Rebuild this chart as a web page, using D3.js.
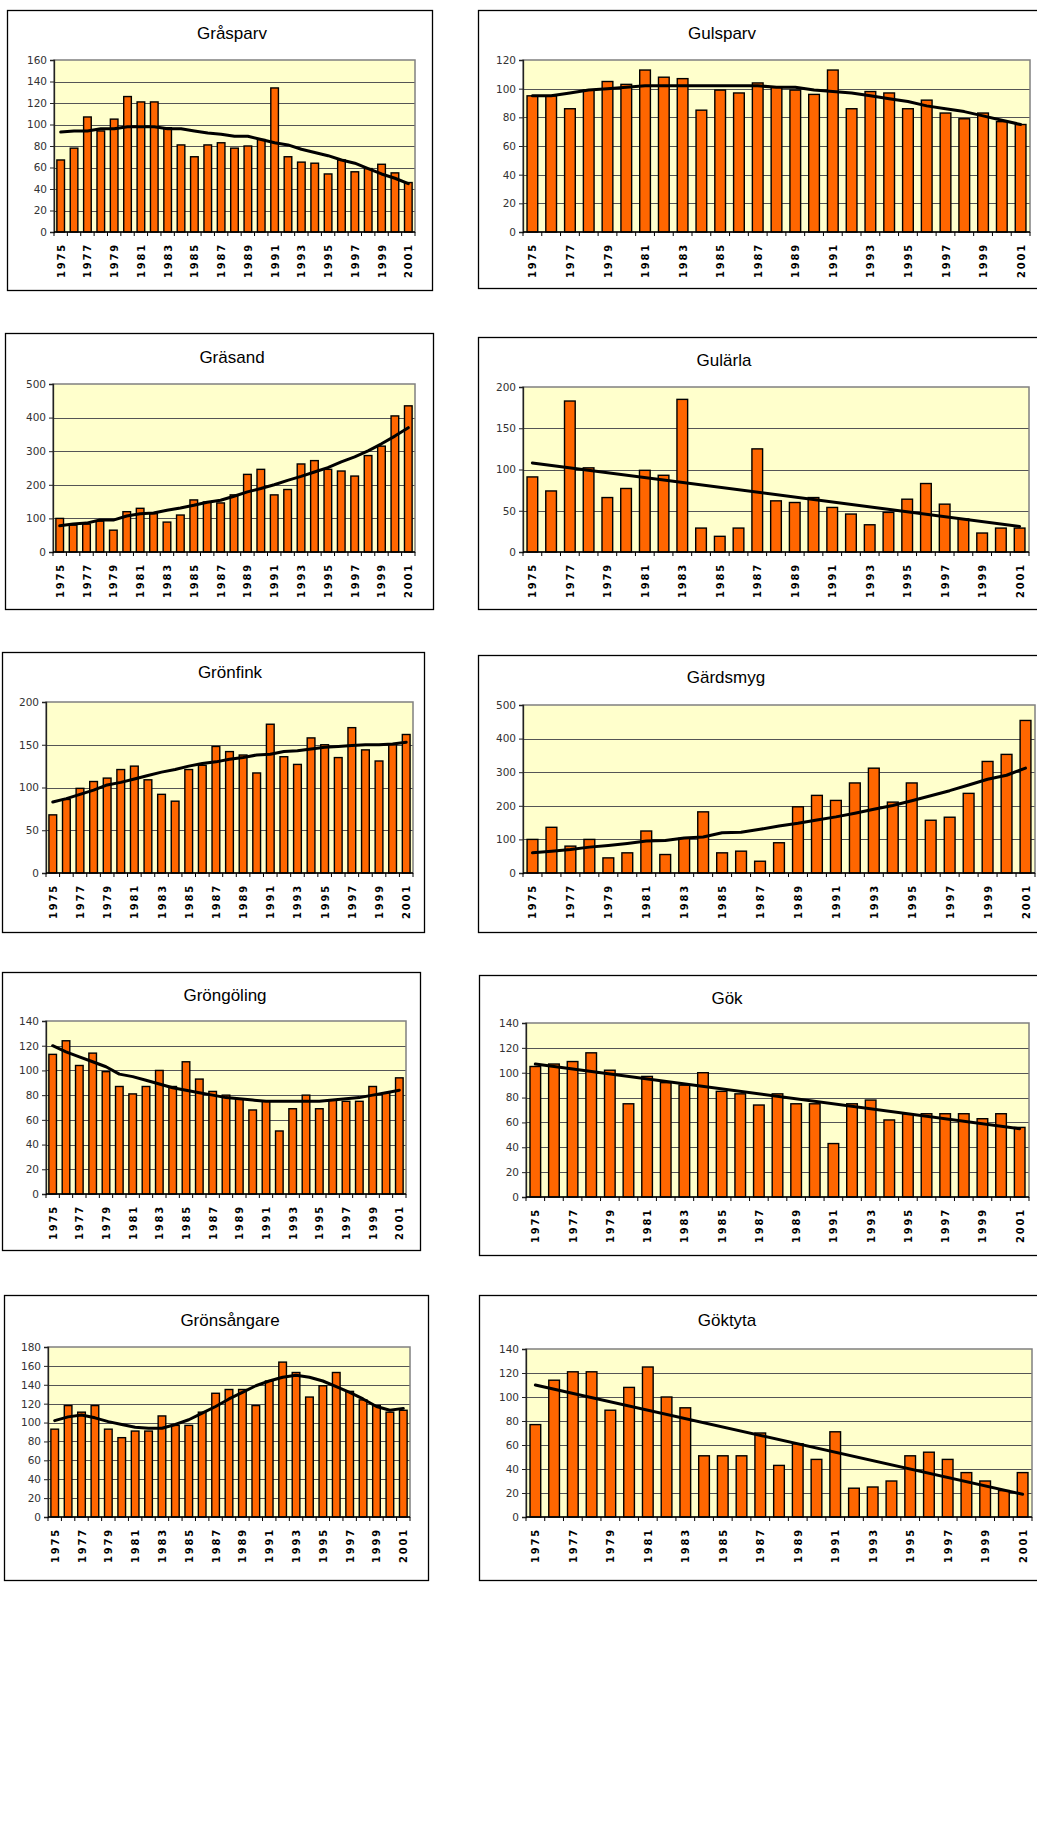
<!DOCTYPE html>
<html>
<head>
<meta charset="utf-8">
<script src="https://cdn.jsdelivr.net/npm/d3@7"></script>
<style>
  body { margin: 0; background: #fff; }
</style>
</head>
<body>
<div id="chart"></div>
<script>
// categories
const years = [1975, 1976, 1977, 1978, 1979, 1980, 1981, 1982, 1983, 1984, 1985, 1986, 1987, 1988,
	1989, 1990, 1991, 1992, 1993, 1994, 1995, 1996, 1997, 1998, 1999, 2000, 2001];
const yearLabels = [1975, 1977, 1979, 1981, 1983, 1985, 1987, 1989, 1991, 1993, 1995, 1997, 1999, 2001];

// bar values, one per year
const grasparv = [67, 78, 107, 94, 105, 126, 121, 121, 97, 81, 70, 81, 83, 78, 80, 86, 134, 70, 65, 64, 54, 67, 56, 59, 63, 55, 46];
const gulsparv = [95, 95, 86, 99, 105, 103, 113, 108, 107, 85, 99, 97, 104, 101, 99, 96, 113, 86, 98, 97, 86, 92, 83, 79, 83, 77, 75];
const grasand = [100, 80, 83, 92, 65, 120, 130, 114, 89, 110, 155, 149, 146, 170, 231, 246, 170, 186, 262, 272, 246, 241, 226, 287, 315, 405, 435];
const gularla = [91, 74, 183, 102, 66, 77, 99, 93, 185, 29, 19, 29, 125, 62, 60, 66, 54, 46, 33, 48, 64, 83, 58, 40, 23, 29, 29];
const gronfink = [68, 86, 99, 107, 111, 121, 125, 109, 92, 84, 121, 126, 148, 142, 138, 117, 174, 136, 127, 158, 150, 135, 170, 144, 131, 150, 162];
const gardsmyg = [100, 136, 80, 100, 45, 60, 125, 55, 103, 182, 60, 65, 35, 90, 197, 231, 216, 268, 312, 211, 268, 157, 166, 237, 332, 353, 454];
const grongoling = [113, 124, 104, 114, 99, 87, 81, 87, 100, 87, 107, 93, 83, 80, 77, 68, 75, 51, 69, 80, 69, 76, 75, 75, 87, 82, 94];
const gok = [105, 107, 109, 116, 102, 75, 97, 92, 90, 100, 85, 83, 74, 83, 75, 75, 43, 75, 78, 62, 67, 67, 67, 67, 63, 67, 56];
const gronsangare = [93, 118, 111, 118, 93, 84, 91, 91, 107, 97, 97, 111, 131, 135, 135, 118, 144, 164, 153, 127, 139, 153, 133, 124, 118, 111, 113];
const goktyta = [77, 114, 121, 121, 89, 108, 125, 100, 91, 51, 51, 51, 70, 43, 61, 48, 71, 24, 25, 30, 51, 54, 48, 37, 30, 22, 37];

// trend lines (per year, or just first/last year for the straight ones)
const grasparvTrend = [93, 94, 94, 96, 96, 98, 98, 98, 96, 96, 94, 92, 91, 89, 89, 86, 83, 81, 77, 74, 71, 67, 64, 59, 54, 50, 45];
const gulsparvTrend = [95, 95, 97, 99, 100, 101, 102, 102, 102, 102, 102, 102, 102, 101, 101, 99, 98, 97, 95, 93, 91, 88, 86, 84, 81, 78, 75];
const grasandTrend = [78, 83, 86, 95, 95, 107, 114, 116, 124, 131, 139, 148, 154, 166, 179, 189, 200, 213, 225, 238, 251, 268, 283, 301, 322, 345, 370];
const gularlaTrend = [108, 31];
const gronfinkTrend = [83, 87, 92, 97, 103, 106, 110, 114, 118, 121, 125, 128, 130, 133, 135, 138, 139, 142, 143, 145, 147, 148, 149, 150, 150, 151, 153];
const gardsmygTrend = [60, 65, 70, 77, 82, 88, 95, 97, 104, 107, 120, 121, 130, 140, 148, 158, 167, 178, 190, 201, 215, 230, 245, 262, 279, 291, 312];
const grongolingTrend = [120, 115, 111, 107, 103, 97, 95, 92, 89, 86, 84, 82, 80, 78, 77, 76, 75, 75, 75, 75, 75, 76, 77, 78, 80, 82, 84];
const gokTrend = [107, 55];
const gronsangareTrend = [102, 106, 108, 105, 101, 98, 95, 94, 94, 98, 103, 110, 117, 125, 132, 139, 144, 148, 150, 148, 144, 138, 132, 125, 117, 113, 115];
const goktytaTrend = [110, 19];

// axis maxima and steps
const yMaxes = [160, 120, 500, 200, 200, 500, 140, 140, 180, 140];
const ySteps = [20, 20, 100, 50, 50, 100, 20, 20, 20, 20];

// layout: box = chart frame, plot = inner plot area, titleX/titleY = title position
const charts = [
	{ title: "Gråsparv", values: grasparv, trend: grasparvTrend, box: [7, 10, 432, 290], plot: [54, 60, 415, 232], titleX: 232, titleY: 39 },
	{ title: "Gulsparv", values: gulsparv, trend: gulsparvTrend, box: [478, 10, 1045, 288], plot: [523, 60, 1030, 232], titleX: 722, titleY: 39 },
	{ title: "Gräsand", values: grasand, trend: grasandTrend, box: [5, 333, 433, 609], plot: [53, 384, 415, 552], titleX: 232, titleY: 363 },
	{ title: "Gulärla", values: gularla, trend: gularlaTrend, box: [478, 337, 1045, 609], plot: [523, 387, 1029, 552], titleX: 724, titleY: 366 },
	{ title: "Grönfink", values: gronfink, trend: gronfinkTrend, box: [2, 652, 424, 932], plot: [46, 702, 413, 873], titleX: 230, titleY: 678 },
	{ title: "Gärdsmyg", values: gardsmyg, trend: gardsmygTrend, box: [478, 655, 1045, 932], plot: [523, 705, 1035, 873], titleX: 726, titleY: 683 },
	{ title: "Gröngöling", values: grongoling, trend: grongolingTrend, box: [2, 972, 420, 1250], plot: [46, 1021, 406, 1194], titleX: 225, titleY: 1001 },
	{ title: "Gök", values: gok, trend: gokTrend, box: [479, 975, 1045, 1255], plot: [526, 1023, 1029, 1197], titleX: 727, titleY: 1004 },
	{ title: "Grönsångare", values: gronsangare, trend: gronsangareTrend, box: [4, 1295, 428, 1580], plot: [48, 1347, 410, 1517], titleX: 230, titleY: 1326 },
	{ title: "Göktyta", values: goktyta, trend: goktytaTrend, box: [479, 1295, 1045, 1580], plot: [526, 1349, 1032, 1517], titleX: 727, titleY: 1326 },
];

const svg = d3.select("#chart").append("svg").attr("width", 1037).attr("height", 1827);

charts.forEach(function (c, i) {
	drawChart(c, yMaxes[i], ySteps[i]);
});

function drawChart(c, yMax, yStep) {
	const g = svg.append("g");
	const [bx0, by0, bx1, by1] = c.box;
	const [px0, py0, px1, py1] = c.plot;

	// chart frame
	g.append("rect")
		.attr("x", bx0 + 0.5)
		.attr("y", by0 + 0.5)
		.attr("width", bx1 - bx0)
		.attr("height", by1 - by0)
		.attr("fill", "#fff")
		.attr("stroke", "#000")
		.attr("stroke-width", 1.3);

	g.append("text")
		.attr("x", c.titleX)
		.attr("y", c.titleY)
		.attr("text-anchor", "middle")
		.style("font-family", "'Liberation Sans', Arial, sans-serif")
		.style("font-size", "17px")
		.text(c.title);

	const x = d3.scaleBand().domain(years).range([px0, px1]);
	const y = d3.scaleLinear().domain([0, yMax]).range([py1, py0]);
	const ticks = d3.range(0, yMax + 1, yStep);

	// plot area
	g.append("rect")
		.attr("x", px0)
		.attr("y", py0)
		.attr("width", px1 - px0)
		.attr("height", py1 - py0)
		.attr("fill", "#FFFFCC");

	// gridlines
	g.append("g")
		.selectAll("line")
		.data(ticks.filter((t) => t > 0 && t < yMax))
		.join("line")
		.attr("x1", px0)
		.attr("x2", px1)
		.attr("y1", (d) => Math.round(y(d)) + 0.5)
		.attr("y2", (d) => Math.round(y(d)) + 0.5)
		.attr("stroke", "#555")
		.attr("stroke-width", 1);

	// plot border in grey
	g.append("rect")
		.attr("x", px0)
		.attr("y", py0)
		.attr("width", px1 - px0)
		.attr("height", py1 - py0)
		.attr("fill", "none")
		.attr("stroke", "#808080")
		.attr("stroke-width", 1.5);

	// bars
	const bw = x.bandwidth() * 0.57;
	g.append("g")
		.selectAll("rect")
		.data(c.values)
		.join("rect")
		.attr("x", (d, i) => x(years[i]) + (x.bandwidth() - bw) / 2)
		.attr("y", (d) => y(d))
		.attr("width", bw)
		.attr("height", (d) => y(0) - y(d))
		.attr("fill", "#FF6600")
		.attr("stroke", "#000")
		.attr("stroke-width", 1.4);

	// y axis
	const yAxis = g.append("g")
		.attr("transform", `translate(${px0},0)`)
		.call(d3.axisLeft(y).tickValues(ticks).tickSize(4).tickPadding(3));
	yAxis.select(".domain").attr("stroke", "#222").attr("stroke-width", 1.3);
	yAxis.selectAll(".tick line").attr("stroke", "#222");
	yAxis.selectAll("text")
		.style("font-family", "'DejaVu Sans', Verdana, sans-serif")
		.style("font-size", "10.5px")
		.attr("fill", "#333");

	// x axis: line, ticks at category boundaries, labels for every other year
	g.append("line")
		.attr("x1", px0)
		.attr("x2", px1)
		.attr("y1", y(0))
		.attr("y2", y(0))
		.attr("stroke", "#000")
		.attr("stroke-width", 1.5);

	g.append("g")
		.selectAll("line")
		.data(years.concat([null]))
		.join("line")
		.attr("x1", (d) => (d === null ? px1 : x(d)))
		.attr("x2", (d) => (d === null ? px1 : x(d)))
		.attr("y1", y(0))
		.attr("y2", y(0) + 4)
		.attr("stroke", "#000");

	g.append("g")
		.selectAll("text")
		.data(yearLabels)
		.join("text")
		.attr("transform", (d) => `translate(${x(d) + x.bandwidth() / 2 + 4}, ${y(0) + 11}) rotate(-90)`)
		.attr("text-anchor", "end")
		.style("font-family", "'DejaVu Sans', Verdana, sans-serif")
		.style("font-size", "10px")
		.style("font-weight", "bold")
		.style("letter-spacing", "1.8px")
		.text((d) => d);

	// trend line
	const trendYears = c.trend.length === 2 ? [years[0], years[years.length - 1]] : years;
	const line = d3.line()
		.x((d, i) => x(trendYears[i]) + x.bandwidth() / 2)
		.y((d) => y(d));
	g.append("path")
		.datum(c.trend)
		.attr("d", line)
		.attr("fill", "none")
		.attr("stroke", "#000")
		.attr("stroke-width", 3)
		.attr("stroke-linejoin", "round")
		.attr("stroke-linecap", "round");
}
</script>
</body>
</html>
